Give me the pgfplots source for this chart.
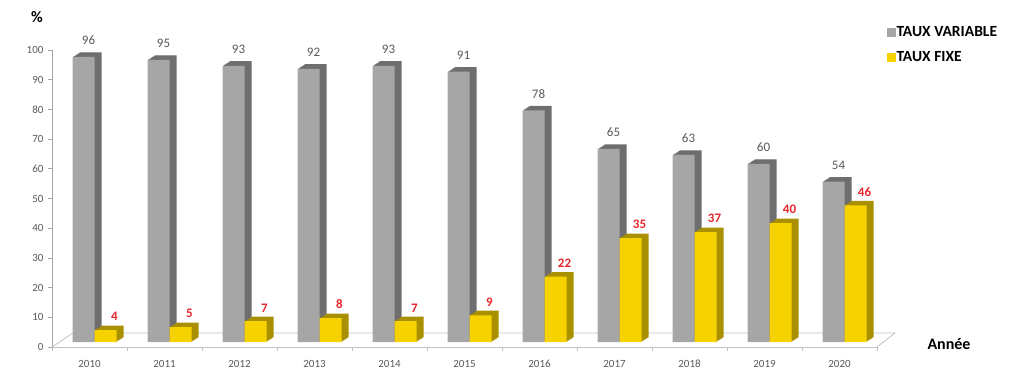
\documentclass[border=0pt]{standalone}
\usepackage{fontspec}
\setmainfont{Carlito}
\usepackage{pgfplots}
\usepackage{pgfplotstable}
\pgfplotsset{compat=1.18}
\definecolor{graybar}{HTML}{A6A6A6}
\definecolor{graydark}{HTML}{6E6E6E}
\definecolor{yelbar}{HTML}{F5D200}
\definecolor{yeldark}{HTML}{A89000}
\definecolor{axisgray}{HTML}{A6A6A6}
\definecolor{floorgray}{HTML}{C0C0C0}
\definecolor{txtgray}{HTML}{595959}
\definecolor{lblred}{HTML}{E8262D}
\pgfplotstableread{
x var fix
0 96 4
1 95 5
2 93 7
3 92 8
4 93 7
5 91 9
6 78 22
7 65 35
8 63 37
9 60 40
10 54 46
}\data
\begin{document}
\begin{tikzpicture}
\useasboundingbox (0,0) rectangle (1024pt,378pt);
\begin{axis}[
  at={(52pt,31pt)}, anchor=south west,
  scale only axis, width=825pt, height=297pt,
  xmin=-0.5, xmax=10.5, ymin=0, ymax=100,
  clip=false,
  axis lines*=left,
  axis line style={axisgray, line width=0.8pt},
  x axis line style={floorgray},
  ytick={0,10,...,100},
  xtick={0,...,10},
  xticklabels={2010,2011,2012,2013,2014,2015,2016,2017,2018,2019,2020},
  minor xtick={-0.5,0.5,...,10.5},
  tick align=outside,
  major tick length=4pt,
  minor tick length=4pt,
  major x tick style={draw=none},
  minor x tick style={draw=floorgray, line width=0.8pt},
  y tick style={axisgray, line width=0.8pt},
  /pgf/number format/assume math mode=true,
  ticklabel style={font=\fontsize{11}{13}\selectfont, text=txtgray},
  xticklabel style={yshift=-5pt, text height=7.5pt, text depth=0pt},
  yticklabel style={xshift=-1pt},
  legend style={at={(1.012,1.085)}, anchor=north west, draw=none, fill=none,
    font=\bfseries\fontsize{15.5}{18}\selectfont, row sep=12pt, inner sep=0pt,
    nodes={inner sep=1pt}},
  legend cell align=left,
]
% floor
\draw[floorgray, line width=0.8pt] (rel axis cs:0,0) -- ([shift={(21pt,14pt)}]rel axis cs:0,0)
   -- ([shift={(18pt,14pt)}]rel axis cs:1,0) -- (rel axis cs:1,0);
% gray series: extrusion then front
\pgfplotsinvokeforeach{1,...,7}{
  \addplot[forget plot, ybar, bar width=22pt, bar shift=-6pt, fill=graydark, draw=none,
    xshift=#1pt, yshift={5pt+0.65*#1pt}] table[x=x,y=var]{\data};
}
\addplot[forget plot, ybar, bar width=22pt, bar shift=-6pt, fill=graybar, draw=none, yshift=5pt,
  nodes near coords,
  every node near coord/.append style={font=\fontsize{13}{15}\selectfont, text=txtgray,
    anchor=south, inner sep=0pt, yshift=12pt, xshift=-1pt}] table[x=x,y=var]{\data};
% yellow series
\pgfplotsinvokeforeach{1,...,7}{
  \addplot[forget plot, ybar, bar width=22pt, bar shift=16pt, fill=yeldark, draw=none,
    xshift=#1pt, yshift={5pt+0.65*#1pt}] table[x=x,y=fix]{\data};
}
\addplot[forget plot, ybar, bar width=22pt, bar shift=16pt, fill=yelbar, draw=none, yshift=5pt,
  nodes near coords,
  every node near coord/.append style={font=\bfseries\fontsize{13}{15}\selectfont, text=lblred,
    anchor=south, inner sep=0pt, yshift=9pt, xshift=25pt}] table[x=x,y=fix]{\data};
\addlegendimage{legend image code/.code={\fill[graybar] (0pt,-4pt) rectangle (8pt,4pt);}}
\addlegendentry{TAUX VARIABLE}
\addlegendimage{legend image code/.code={\fill[yelbar] (0pt,-4pt) rectangle (8pt,4pt);}}
\addlegendentry{TAUX FIXE}
\end{axis}
\node[font=\bfseries\fontsize{16}{18}\selectfont] at (37pt,361pt) {\%};
\node[font=\bfseries\fontsize{16}{18}\selectfont] at (949pt,34pt) {Année};
\end{tikzpicture}
\end{document}
